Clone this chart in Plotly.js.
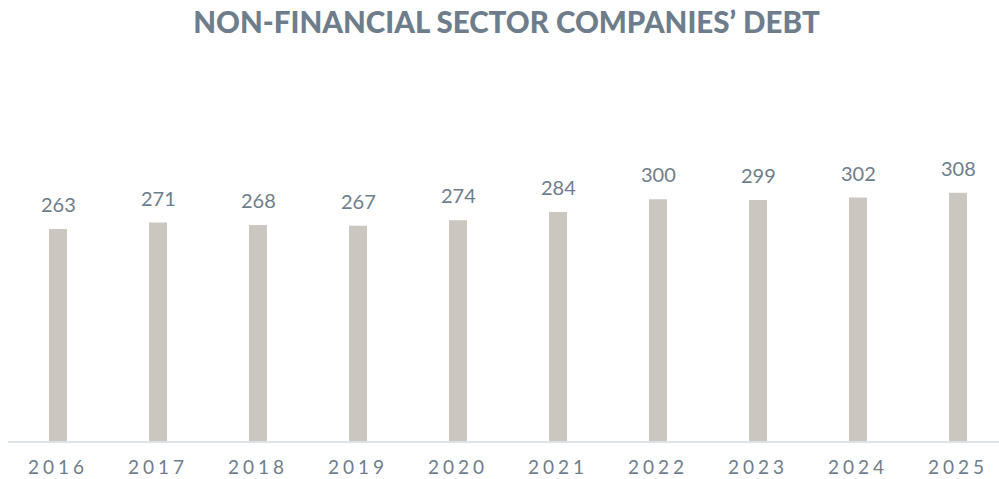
<!DOCTYPE html>
<html>
<head>
<meta charset="utf-8">
<script src="https://cdn.plot.ly/plotly-3.0.1.min.js"></script>
<style>
  html, body { margin: 0; padding: 0; background: #ffffff; }
  #chart { width: 999px; height: 479px; }
  .xtick text { letter-spacing: 4px; }
</style>
</head>
<body>
<div id="chart"></div>
<script>
const years = ['2016', '2017', '2018', '2019', '2020', '2021', '2022', '2023', '2024', '2025'];
const debt = [263, 271, 268, 267, 274, 284, 300, 299, 302, 308];
const titleText = 'NON-FINANCIAL SECTOR COMPANIES’ DEBT';

const textColor = '#6e7d8b';

const labels = years.map((y, i) => ({
  x: i, y: debt[i], text: String(debt[i]),
  xref: 'x', yref: 'y', showarrow: false,
  xanchor: 'center', yanchor: 'bottom', yshift: 11,
  font: { family: 'Lato, sans-serif', size: 20, color: textColor }
}));

const data = [{
  type: 'bar',
  x: years,
  y: debt,
  marker: { color: '#ccc6c1' },
  hoverinfo: 'x+y'
}];

const layout = {
  width: 999, height: 479,
  margin: { l: 8, r: 0, t: 60, b: 38 },
  paper_bgcolor: '#ffffff', plot_bgcolor: '#ffffff',
  bargap: 0.82,
  showlegend: false,
  title: {
    text: titleText,
    x: 0.507, xanchor: 'center', y: 0.952, yanchor: 'middle',
    font: { family: 'Lato, sans-serif', size: 29.5, weight: 900, color: textColor }
  },
  xaxis: {
    type: 'category',
    range: [-0.5, 9.41],
    showgrid: false, zeroline: false,
    showline: true, linecolor: '#dbe2e8', linewidth: 2,
    ticks: '',
    ticklabelstandoff: 8,
    tickfont: { family: 'Lato, sans-serif', size: 19, color: textColor },
    fixedrange: true
  },
  yaxis: {
    range: [0, 472.7],
    showticklabels: false, showline: false, ticks: '',
    showgrid: false, zeroline: false,
    fixedrange: true
  },
  annotations: labels
};

Plotly.newPlot('chart', data, layout, { displayModeBar: false, staticPlot: true });
</script>
</body>
</html>
